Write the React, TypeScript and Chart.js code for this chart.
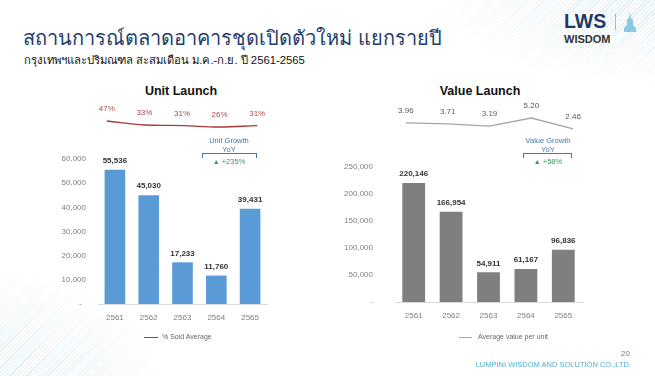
import React, { useEffect, useRef } from "react";
import { Chart, registerables } from "chart.js";

Chart.register(...registerables);

const years = ["2561", "2562", "2563", "2564", "2565"];
const unitLaunch = [55536, 45030, 17233, 11760, 39431];
const valueLaunch = [220146, 166954, 54911, 61167, 96836];
const soldAvgPct = [47, 33, 31, 26, 31];
const avgValuePerUnit = [3.96, 3.71, 3.19, 5.2, 2.46];

const FONT = "'Liberation Sans', Arial, sans-serif";

const barLabelPlugin = {
  id: "barLabels",
  afterDatasetsDraw(chart: any) {
    const ctx = chart.ctx;
    const meta = chart.getDatasetMeta(0);
    const data = chart.data.datasets[0].data as number[];
    ctx.save();
    ctx.font = `bold 8px ${FONT}`;
    ctx.fillStyle = "#333333";
    ctx.textAlign = "center";
    ctx.textBaseline = "middle";
    meta.data.forEach((el: any, i: number) => {
      ctx.fillText(data[i].toLocaleString("en-US"), el.x, el.y - 9);
    });
    ctx.restore();
  },
};

const lineLabelPlugin = {
  id: "lineLabels",
  afterDatasetsDraw(chart: any, _args: any, opts: any) {
    const ctx = chart.ctx;
    const meta = chart.getDatasetMeta(0);
    const data = chart.data.datasets[0].data as number[];
    ctx.save();
    ctx.font = `8px ${FONT}`;
    ctx.fillStyle = opts.color || "#666";
    ctx.textAlign = "center";
    ctx.textBaseline = "middle";
    meta.data.forEach((el: any, i: number) => {
      const t = opts.suffix ? `${data[i]}${opts.suffix}` : data[i].toFixed(2);
      ctx.fillText(t, el.x, el.y - 12);
    });
    ctx.restore();
  },
};

function ChartBox(props: { config: any; left: number; top: number; width: number; height: number }) {
  const ref = useRef<HTMLCanvasElement>(null);
  useEffect(() => {
    if (!ref.current) return;
    const chart = new Chart(ref.current, props.config);
    return () => chart.destroy();
  }, []);
  return (
    <canvas
      ref={ref}
      width={props.width}
      height={props.height}
      style={{ position: "absolute", left: props.left, top: props.top, width: props.width, height: props.height }}
    />
  );
}

function barConfig(values: number[], color: string, max: number, step: number, yWidth: number, yPad: number, padRight: number, padBottom: number, zeroLabel: string) {
  return {
    type: "bar",
    data: {
      labels: years,
      datasets: [{ data: values, backgroundColor: color, borderWidth: 0, categoryPercentage: 1, barPercentage: 0.61 }],
    },
    plugins: [barLabelPlugin],
    options: {
      animation: false,
      responsive: false,
      devicePixelRatio: 1,
      layout: { padding: { left: 0, right: padRight, top: 19, bottom: padBottom } },
      plugins: { legend: { display: false }, tooltip: { enabled: false } },
      scales: {
        x: {
          grid: { display: false, drawTicks: false },
          border: { display: true, color: "#d9d9d9", width: 1 },
          ticks: { padding: 9, color: "#7f7f7f", font: { size: 8, family: FONT } },
          afterFit: (s: any) => { s.height = 26; },
        },
        y: {
          min: 0,
          max,
          grid: { display: false, drawTicks: false },
          border: { display: false },
          ticks: {
            stepSize: step,
            padding: yPad,
            color: "#7f7f7f",
            font: { size: 8, family: FONT },
            callback: (v: number) => (v === 0 ? zeroLabel : v.toLocaleString("en-US")),
          },
          afterFit: (s: any) => { s.width = yWidth; },
        },
      },
    },
  };
}

function lineConfig(values: number[], color: string, labelColor: string, min: number, max: number, tension: number, padL: number, padR: number, suffix: string) {
  return {
    type: "line",
    data: {
      labels: years,
      datasets: [{ data: values, borderColor: color, borderWidth: 1.3, pointRadius: 0, tension, fill: false }],
    },
    plugins: [lineLabelPlugin],
    options: {
      animation: false,
      responsive: false,
      devicePixelRatio: 1,
      layout: { padding: { left: padL, right: padR, top: 5, bottom: 5 } },
      plugins: { legend: { display: false }, tooltip: { enabled: false }, lineLabels: { color: labelColor, suffix } },
      scales: {
        x: { display: false, offset: true },
        y: { display: false, min, max },
      },
    },
  };
}

const txt = (extra: any): any => ({ position: "absolute", whiteSpace: "nowrap", fontFamily: FONT, ...extra });

function GrowthBox(props: { cx: number; bl: number; br: number; title: string; value: string }) {
  const blue = "#4a76a8";
  return (
    <>
      <div style={txt({ left: props.cx - 60, width: 120, top: 136, textAlign: "center", fontSize: 7.5, color: blue, lineHeight: "9px" })}>
        {props.title}
        <br />
        YoY
      </div>
      <div style={{ position: "absolute", left: props.bl, top: 153, width: props.br - props.bl, height: 5, borderTop: `1px solid ${blue}`, borderLeft: `1px solid ${blue}`, borderRight: `1px solid ${blue}`, boxSizing: "border-box" }} />
      <div style={txt({ left: props.cx - 60, width: 120, top: 157, textAlign: "center", fontSize: 7.5, color: "#2e9e58", lineHeight: "10px" })}>
        <span style={{ fontSize: 7 }}>▲</span> {props.value}
      </div>
    </>
  );
}

export default function App() {
  return (
    <div style={{ position: "absolute", left: 0, top: 0, width: 655, height: 376, background: "#ffffff", overflow: "hidden" }}>
      <div style={{ position: "absolute", right: 0, top: 0, width: 230, height: 90, background: "repeating-linear-gradient(135deg, rgba(150,200,225,0.35) 0px, rgba(150,200,225,0.35) 1px, transparent 1px, transparent 3px)", WebkitMaskImage: "radial-gradient(ellipse at top right, black 10%, transparent 70%)", maskImage: "radial-gradient(ellipse at top right, black 10%, transparent 70%)" } as any} />
      <div style={{ position: "absolute", left: 0, bottom: 0, width: 170, height: 110, background: "repeating-linear-gradient(135deg, rgba(150,200,225,0.35) 0px, rgba(150,200,225,0.35) 1px, transparent 1px, transparent 3px)", WebkitMaskImage: "radial-gradient(ellipse at bottom left, black 10%, transparent 70%)", maskImage: "radial-gradient(ellipse at bottom left, black 10%, transparent 70%)" } as any} />

      <div style={txt({ left: 23, top: 25, fontSize: 20, color: "#1f3d6b", lineHeight: "26px" })}>สถานการณ์ตลาดอาคารชุดเปิดตัวใหม่ แยกรายปี</div>
      <div style={txt({ left: 24, top: 52, fontSize: 11.3, color: "#111", lineHeight: "16px" })}>กรุงเทพฯและปริมณฑล สะสมเดือน ม.ค.-ก.ย. ปี 2561-2565</div>

      <div style={txt({ left: 564, top: 11, fontSize: 19.5, fontWeight: "bold", color: "#1f3864", lineHeight: "20px" })}>LWS</div>
      <div style={txt({ left: 564, top: 33, fontSize: 11, fontWeight: "bold", color: "#333", lineHeight: "12px" })}>WISDOM</div>
      <div style={{ position: "absolute", left: 615, top: 14, width: 1, height: 16, background: "#b0b8c0" }} />
      <svg style={{ position: "absolute", left: 622, top: 12 }} width="16" height="20" viewBox="0 0 16 20">
        <polygon points="8,0 9,6 11,8 11,13 14,16 14,20 2,20 2,16 5,13 5,8 7,6" fill="#8cc8e6" />
      </svg>

      <div style={txt({ left: 125, width: 112, top: 84, textAlign: "center", fontSize: 12.5, fontWeight: "bold", color: "#111", lineHeight: "14px" })}>Unit Launch</div>
      <div style={txt({ left: 424, width: 112, top: 84, textAlign: "center", fontSize: 12.5, fontWeight: "bold", color: "#111", lineHeight: "14px" })}>Value Launch</div>

      <ChartBox left={60} top={95} width={240} height={45} config={lineConfig(soldAvgPct, "#a83a3a", "#b04848", -2, 120.5, 0.4, 28, 24, "%")} />
      <ChartBox left={340} top={95} width={270} height={45} config={lineConfig(avgValuePerUnit, "#a6a6a6", "#595959", 0.95, 9.7, 0, 45, 16, "")} />

      <ChartBox left={40} top={140} width={240} height={200} config={barConfig(unitLaunch, "#5b9bd5", 60000, 10000, 58, 12, 13, 10, "-  ")} />
      <ChartBox left={320} top={140} width={270} height={200} config={barConfig(valueLaunch, "#7f7f7f", 250000, 50000, 75, 22, 8, 12, "-")} />

      <GrowthBox cx={229} bl={202} br={257} title="Unit Growth" value="+235%" />
      <GrowthBox cx={548} bl={523} br={572} title="Value Growth" value="+58%" />

      <div style={{ position: "absolute", left: 144, top: 337, width: 14, height: 1, background: "#a83a3a" }} />
      <div style={txt({ left: 162, top: 332, fontSize: 7, color: "#666", lineHeight: "10px" })}>% Sold Average</div>
      <div style={{ position: "absolute", left: 459, top: 337, width: 13, height: 1, background: "#a6a6a6" }} />
      <div style={txt({ left: 478, top: 332, fontSize: 7, color: "#666", lineHeight: "10px" })}>Average value per unit</div>

      <div style={txt({ right: 25, top: 349, fontSize: 8, color: "#777", lineHeight: "10px" })}>20</div>
      <div style={txt({ right: 24, top: 360, fontSize: 7.5, color: "#4fb0cf", lineHeight: "10px" })}>LUMPINI WISDOM AND SOLUTION CO.,LTD.</div>
    </div>
  );
}
